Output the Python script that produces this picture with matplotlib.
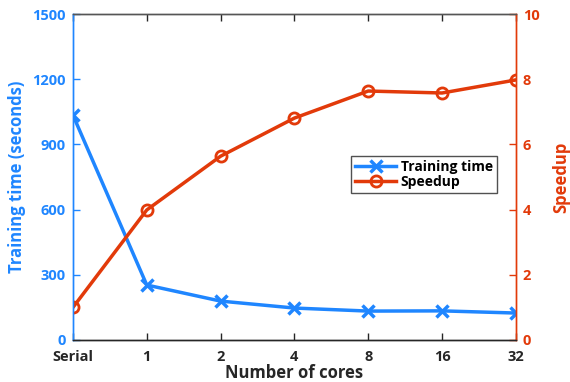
import matplotlib
matplotlib.use("Agg")
import matplotlib.pyplot as plt

categories = ["Serial", "1", "2", "4", "8", "16", "32"]
training_time = [1035, 253, 179, 147, 133, 134, 124]
speedup = [1.0, 3.99, 5.64, 6.81, 7.64, 7.58, 7.98]

blue = "#1F86FF"
red = "#E23A0A"
dark = "#262626"

plt.rcParams['font.family'] = ['Open Sans', 'DejaVu Sans']
plt.rcParams['font.weight'] = 'bold'

fig = plt.figure(figsize=(5.7, 3.82), dpi=100)
ax = fig.add_axes([0.128, 0.110, 0.777, 0.853])
ax2 = ax.twinx()

x = list(range(len(categories)))
l1, = ax.plot(x, training_time, color=blue, lw=2.5, marker='x', ms=9, mew=2.5, label='Training time')
l2, = ax2.plot(x, speedup, color=red, lw=2.5, marker='o', ms=8, mew=2, mfc='none', label='Speedup')

ax.set_xlim(0, 6)
ax.set_ylim(0, 1500)
ax2.set_ylim(0, 10)
ax.set_xticks(x)
ax.set_xticklabels(categories)
ax.set_yticks([0, 300, 600, 900, 1200, 1500])
ax2.set_yticks([0, 2, 4, 6, 8, 10])

ax.tick_params(axis='x', direction='in', top=True, colors=dark, labelsize=10.5, length=5, width=1, pad=7)
ax.tick_params(axis='y', direction='in', colors=blue, labelsize=10.5, length=5, width=1, pad=5)
ax2.tick_params(axis='y', direction='in', colors=red, labelsize=10.5, length=5, width=1, pad=5)
ax2.tick_params(axis='x', top=False, bottom=False)

for a in (ax, ax2):
    a.spines['left'].set_color(blue)
    a.spines['right'].set_color(red)
    a.spines['top'].set_color('#555555')
    a.spines['bottom'].set_color(dark)
    for s in a.spines.values():
        s.set_linewidth(1)

ax.set_xlabel("Number of cores", fontsize=12, fontweight='bold', color=dark, labelpad=0)
ax.set_ylabel("Training time (seconds)", fontsize=12, fontweight='bold', color=blue, labelpad=5)
ax2.set_ylabel("Speedup", fontsize=12, fontweight='bold', color=red, labelpad=9)

leg = ax2.legend([l1, l2], ['Training time', 'Speedup'], loc='upper left',
                 bbox_to_anchor=(0.627, 0.565), fontsize=10, frameon=True, fancybox=False,
                 edgecolor=dark, borderpad=0.3, labelspacing=0.05, handlelength=3, handletextpad=0.3,
                 borderaxespad=0)
leg.get_frame().set_linewidth(1)
for t in leg.get_texts():
    t.set_fontweight('bold')
    t.set_color('black')

fig.savefig("out.png", dpi=100)
